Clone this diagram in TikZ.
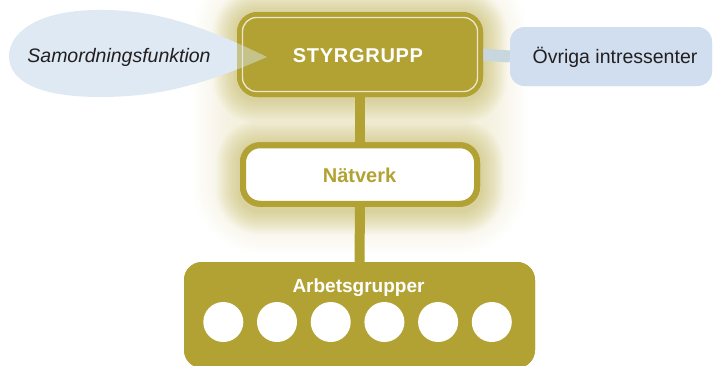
\documentclass[tikz,border=0pt]{standalone}
\usepackage{fontspec}
\setmainfont{Liberation Sans}
\definecolor{olive}{RGB}{178,162,52}
\definecolor{glowc}{RGB}{190,175,80}
\definecolor{fieldc}{RGB}{215,205,140}
\definecolor{dropc}{RGB}{222,233,243}
\definecolor{ovrc}{RGB}{208,222,239}
\definecolor{barc}{RGB}{200,214,222}
\definecolor{txtc}{RGB}{35,31,32}
\tikzset{
  olivebox/.style={draw=olive, fill=olive, line width=3pt, rounded corners=19pt, outer sep=0pt, inner sep=0pt},
  whitebox/.style={draw=olive, fill=white, line width=6pt, rounded corners=17pt, outer sep=0pt, inner sep=0pt},
  groupbox/.style={fill=olive, rounded corners=18pt, outer sep=0pt, inner sep=0pt},
  bluebox/.style={fill=ovrc, rounded corners=15pt, outer sep=0pt, inner sep=0pt},
  member/.style={circle, fill=white, minimum size=40pt, inner sep=0pt},
  boldtxt/.style={font=\fontsize{20}{24}\selectfont\bfseries},
  plaintxt/.style={font=\fontsize{19.5}{23}\selectfont, text=txtc},
}
\begin{document}
\begin{tikzpicture}[x=1pt, y=-1pt]
\path[use as bounding box] (0,0) rectangle (714,365);
\clip (0,0) rectangle (714,365);
% wide faint glow field
\foreach \r [evaluate=\r as \rc using 30+\r] in {0,3,...,39} {
  \fill[fieldc, opacity=0.025, rounded corners=\rc pt] (232-\r,5-\r) rectangle (488+\r,215+\r);
}
% close glow around boxes
\foreach \r [evaluate=\r as \rc using 19+\r] in {1.5,3,...,24} {
  \fill[glowc, opacity=0.035, rounded corners=\rc pt] (237-\r,14-\r) rectangle (483+\r,99+\r);
  \fill[glowc, opacity=0.035, rounded corners=\rc pt] (240-\r,144-\r) rectangle (480+\r,210+\r);
}
% nodes (boxes)
\node[olivebox, minimum width=243pt, minimum height=82pt] (sty) at (360,54.5) {};
\node[whitebox, minimum width=234pt, minimum height=58.5pt] (net) at (360,174.5) {};
\node[groupbox, minimum width=351pt, minimum height=106pt] (arb) at (359.5,315) {};
\node[bluebox, minimum width=202pt, minimum height=59pt] (ovr) at (611,56.5) {};
% connectors
\draw[olive, line width=10pt] (sty.south) -- (net.north);
\draw[olive, line width=10pt] (net.south) -- (arb.north);
\draw[barc, line width=12pt] (sty.east) -- (ovr.west);
% teardrop
\fill[dropc] (267,57) .. controls (195,22) and (150,9) .. (95,10) .. controls (35,11) and (9,34) .. (9,56)
  .. controls (9,84) and (45,97) .. (100,97) .. controls (160,97) and (205,84) .. (267,57) -- cycle;
% redraw boxes on top
\node[olivebox, minimum width=243pt, minimum height=82pt] at (360,54.5) {};
\draw[white, opacity=0.75, line width=1.3pt, rounded corners=14pt] (242.5,17.5) rectangle (477.5,91.5);
\begin{scope}
  \clip (237,12) rectangle (483,97);
  \fill[dropc, opacity=0.45] (267,57) .. controls (195,22) and (150,9) .. (95,10) .. controls (35,11) and (9,34) .. (9,56)
    .. controls (9,84) and (45,97) .. (100,97) .. controls (160,97) and (205,84) .. (267,57) -- cycle;
\end{scope}
\node[whitebox, minimum width=234pt, minimum height=58.5pt] at (360,174.5) {};
\node[groupbox, minimum width=351pt, minimum height=106pt] at (359.5,315) {};
\node[bluebox, minimum width=202pt, minimum height=59pt] at (611,56.5) {};
% texts
\node[boldtxt, text=white, inner sep=0pt] (stytext) at (358,55.2) {\addfontfeature{LetterSpace=3.5}STYRGRUPP};
\node[boldtxt, text=olive, inner sep=0pt] (nettext) at (359.5,175.8) {Nätverk};
\node[text=white, anchor=base, inner sep=0pt, font=\fontsize{19}{23}\selectfont\bfseries] (arbtext) at (358.5,292.3) {Arbetsgrupper};
\node[plaintxt, anchor=base, inner sep=0pt] (samtext) at (119,62.3) {\itshape Samordningsfunktion};
\node[plaintxt, anchor=base, inner sep=0pt] (ovrtext) at (615,63.3) {Övriga intressenter};
% members
\foreach \i in {0,...,5} {
  \node[member] (m\i) at (223.3+\i*53.7,322) {};
}
\end{tikzpicture}
\end{document}
